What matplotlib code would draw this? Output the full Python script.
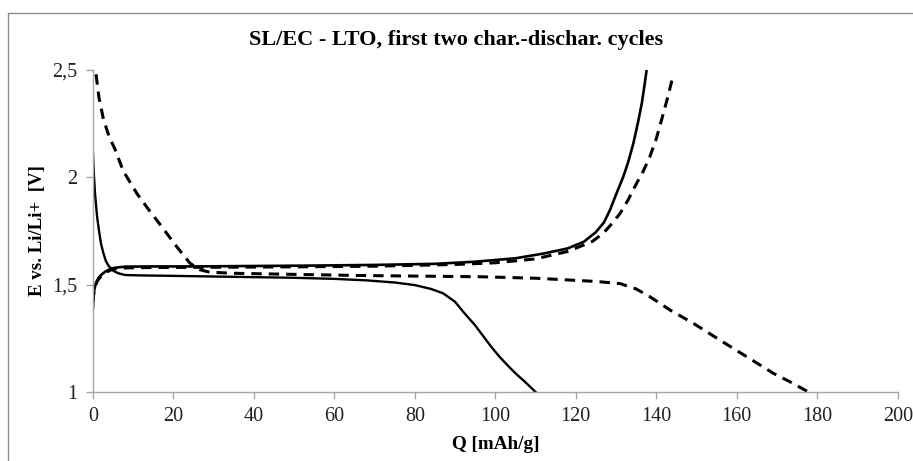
import matplotlib
matplotlib.use("Agg")
import matplotlib.pyplot as plt
from matplotlib.patches import Rectangle

# ---- data ----
dis1_q = [0, 0.2, 0.5, 1.0, 1.5, 2.0, 2.6, 3.2, 3.8, 4.6, 5.5, 6.5, 8, 12, 20, 30,
          40, 50, 60, 68, 75, 80, 84, 87, 90, 92, 95, 97, 99, 101, 103, 105, 107.5, 110]
dis1_e = [2.11, 2.02, 1.925, 1.82, 1.75, 1.69, 1.646, 1.61, 1.59, 1.57, 1.56, 1.552,
          1.545, 1.543, 1.541, 1.538, 1.535, 1.532, 1.527, 1.52, 1.51, 1.498, 1.48,
          1.46, 1.42, 1.374, 1.31, 1.26, 1.21, 1.165, 1.125, 1.087, 1.045, 1.0]

ch1_q = [0, 0.1, 0.3, 0.7, 1.3, 2.0, 3.0, 4.6, 6, 8, 15, 25, 40, 55, 70, 85, 95,
         105, 112, 118, 122, 125, 127, 128.5, 130, 131.8, 133, 134.3, 135.5, 136.4,
         137, 137.6]
ch1_e = [1.39, 1.44, 1.475, 1.505, 1.53, 1.545, 1.56, 1.576, 1.58, 1.584, 1.585,
         1.585, 1.587, 1.589, 1.592, 1.597, 1.607, 1.623, 1.645, 1.669, 1.70, 1.745,
         1.79, 1.848, 1.92, 2.003, 2.07, 2.158, 2.26, 2.345, 2.42, 2.5]

dis2_q = [0.75, 1.5, 2.6, 4.0, 5.5, 7.5, 10.9, 14.2, 17.1, 20.8, 24.1, 26.5, 29,
          35, 50, 65, 80, 96, 110, 118, 125, 131, 135, 138.4, 143.4, 149.2, 155.8,
          162.5, 169.1, 174, 177.8]
dis2_e = [2.48, 2.37, 2.27, 2.19, 2.13, 2.03, 1.925, 1.84, 1.77, 1.677, 1.60, 1.57,
          1.558, 1.553, 1.548, 1.543, 1.54, 1.537, 1.53, 1.522, 1.515, 1.505, 1.48,
          1.444, 1.382, 1.32, 1.242, 1.164, 1.087, 1.04, 1.0]

ch2_q = [0, 0.2, 0.5, 1.0, 2.0, 3.0, 4.6, 6, 8, 15, 30, 50, 70, 90, 100, 110, 118,
         124, 126.8, 129, 131, 133, 135.1, 136.8, 138.4, 140, 141.3, 142.8, 144.2]
ch2_e = [1.42, 1.46, 1.49, 1.515, 1.54, 1.555, 1.57, 1.575, 1.578, 1.58, 1.581,
         1.583, 1.586, 1.594, 1.602, 1.62, 1.655, 1.70, 1.739, 1.785, 1.832, 1.895,
         1.972, 2.03, 2.096, 2.18, 2.267, 2.37, 2.476]

x_ticks = [0, 20, 40, 60, 80, 100, 120, 140, 160, 180, 200]
y_ticks = [1.0, 1.5, 2.0, 2.5]
y_tick_labels = ["1", "1,5", "2", "2,5"]

title = "SL/EC - LTO, first two char.-dischar. cycles"
x_label = "Q [mAh/g]"
y_label = "E vs. Li/Li+  [V]"

# ---- figure ----
plt.rcParams['font.family'] = ['Liberation Serif', 'DejaVu Serif']
W, H = 913, 461
fig = plt.figure(figsize=(W / 100, H / 100), dpi=100)
fig.patch.set_facecolor("white")

# outer chart-area border (only top and left visible in the crop)
fig.add_artist(Rectangle((8.3 / W, -0.2), 1.5, 0.2 + (H - 13.3) / H,
                         transform=fig.transFigure, fill=False,
                         edgecolor="#8c8c8c", linewidth=1.0))

ax = fig.add_axes([93 / W, (H - 392) / H, (897.7 - 93) / W, (392 - 70) / H])

ax.plot(dis1_q, dis1_e, color="black", lw=1.7, solid_joinstyle="round")
ax.plot(ch1_q, ch1_e, color="black", lw=1.9, solid_joinstyle="round")
ax.plot(dis2_q, dis2_e, color="black", lw=2.2, linestyle=(0, (3.4, 2.3)))
ax.plot(ch2_q, ch2_e, color="black", lw=2.2, linestyle=(0, (3.4, 2.3)))

ax.set_xlim(0, 200)
ax.set_ylim(1, 2.5)
ax.set_xticks(x_ticks)
ax.set_xticklabels([str(t) for t in x_ticks])
ax.set_yticks(y_ticks)
ax.set_yticklabels(y_tick_labels)

for s in ["top", "right"]:
    ax.spines[s].set_visible(False)
for s in ["left", "bottom"]:
    ax.spines[s].set_color("#a6a6a6")
    ax.spines[s].set_linewidth(1.0)
ax.tick_params(axis="both", direction="out", length=5, width=1.0,
               color="#a6a6a6", labelsize=14.5, labelcolor="#222222")
ax.tick_params(axis="x", pad=6)
ax.tick_params(axis="y", pad=6)

ax.set_xlabel(x_label, fontsize=13.8, fontweight="bold", labelpad=7)
ax.set_ylabel(y_label, fontsize=13.6, fontweight="bold", labelpad=5)
fig.text(0.5, (H - 40) / H, title, ha="center", va="center",
         fontsize=16, fontweight="bold")

fig.savefig("out.png", dpi=100, facecolor="white")
